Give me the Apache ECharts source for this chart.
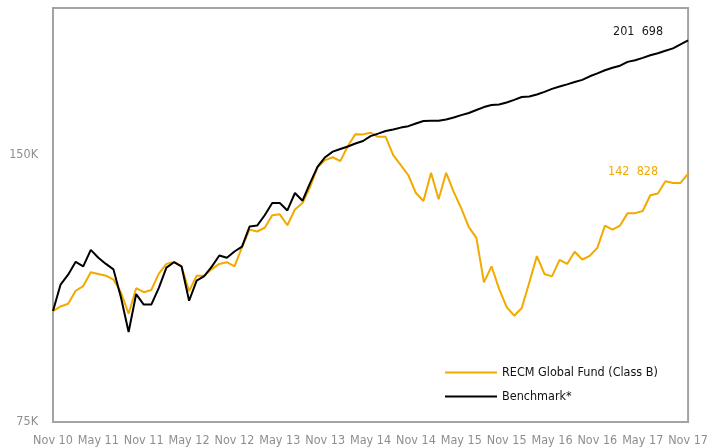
<!DOCTYPE html>
<html>
<head>
<meta charset="utf-8">
<script src="https://cdn.jsdelivr.net/npm/echarts@6/dist/echarts.min.js"></script>
<style>
html,body{margin:0;padding:0;background:#fff;}
#chart{width:711px;height:448px;}
</style>
</head>
<body>
<div id="chart"></div>
<script>
const months = [
 'Nov 10','Dec 10','Jan 11','Feb 11','Mar 11','Apr 11','May 11','Jun 11','Jul 11','Aug 11','Sep 11','Oct 11',
 'Nov 11','Dec 11','Jan 12','Feb 12','Mar 12','Apr 12','May 12','Jun 12','Jul 12','Aug 12','Sep 12','Oct 12',
 'Nov 12','Dec 12','Jan 13','Feb 13','Mar 13','Apr 13','May 13','Jun 13','Jul 13','Aug 13','Sep 13','Oct 13',
 'Nov 13','Dec 13','Jan 14','Feb 14','Mar 14','Apr 14','May 14','Jun 14','Jul 14','Aug 14','Sep 14','Oct 14',
 'Nov 14','Dec 14','Jan 15','Feb 15','Mar 15','Apr 15','May 15','Jun 15','Jul 15','Aug 15','Sep 15','Oct 15',
 'Nov 15','Dec 15','Jan 16','Feb 16','Mar 16','Apr 16','May 16','Jun 16','Jul 16','Aug 16','Sep 16','Oct 16',
 'Nov 16','Dec 16','Jan 17','Feb 17','Mar 17','Apr 17','May 17','Jun 17','Jul 17','Aug 17','Sep 17','Oct 17',
 'Nov 17'
];

const fundName = 'RECM Global Fund (Class B)';
const benchName = 'Benchmark*';

const fund = [
 100000,101200,101900,105400,106700,110600,110100,109600,108500,104900,99300,106100,
 105000,105600,110200,113000,113600,112200,105300,109600,109600,111500,113000,113500,
 112300,118000,123500,122900,124100,128200,128500,124900,130100,132300,137900,145200,
 147900,149000,147500,153400,158200,158100,158800,157100,157100,149800,146000,142200,
 135800,133000,143100,133600,143100,136200,130500,124300,120900,107700,112300,105900,
 101000,98800,100800,107700,115300,110100,109400,114200,113000,116600,114300,115400,
 117800,124800,123500,124800,128900,128900,129600,135000,135600,140000,139400,139400,
 142828
];

const bench = [
 100000,107100,109900,113600,112300,117200,114800,113000,111400,103500,94700,104500,
 101700,101700,106200,111900,113500,112300,102700,108200,109500,112200,115500,114800,
 116700,118200,124500,124800,128200,132300,132300,129800,135800,133100,139300,145400,
 149000,151200,152200,153200,154400,155400,157400,158400,159500,160100,160900,161500,
 162600,163700,163800,163800,164300,165200,166200,167100,168400,169700,170600,170800,
 171700,172900,174200,174400,175300,176500,177900,179000,180000,181100,182100,183800,
 185200,186700,187900,188900,190800,191600,192800,194100,195100,196400,197600,199700,
 201698
];

const yMin = 75000;
const yMax = 219400;
const yTickLabels = {1: '75K', 2: '150K'};
const fundEndLabel = '142  828';
const benchEndLabel = '201  698';

const FONT = "'Liberation Sans Narrow','DejaVu Sans Condensed','Roboto Condensed',sans-serif";
const ORANGE = '#F2A900';
const BLACK = '#000000';
const GREY = '#8e8e8e';

const chart = echarts.init(document.getElementById('chart'), null, {renderer: 'canvas'});
chart.setOption({
  animation: false,
  backgroundColor: '#ffffff',
  grid: {
    left: 53, right: 20, top: 8, bottom: 26,
    show: true, borderColor: '#a3a3a3', borderWidth: 2, backgroundColor: 'transparent'
  },
  legend: {
    orient: 'vertical',
    left: 445, top: 366,
    padding: 0,
    itemWidth: 52, itemHeight: 14, itemGap: 11,
    icon: 'path://M0,0 L52,0 L52,2 L0,2 Z',
    textStyle: {fontFamily: FONT, fontSize: 12.5, color: '#111111'},
    data: [
      {name: fundName, itemStyle: {color: ORANGE}},
      {name: benchName, itemStyle: {color: BLACK}}
    ]
  },
  xAxis: {
    type: 'category',
    data: months,
    boundaryGap: false,
    axisLine: {show: false},
    axisTick: {show: false},
    splitLine: {show: false},
    axisLabel: {
      interval: 5,
      margin: 12,
      color: GREY,
      fontFamily: FONT,
      fontSize: 12.5
    }
  },
  yAxis: [
    {
      type: 'log', logBase: 2, min: yMin, max: yMax,
      axisLine: {show: false}, axisTick: {show: false},
      splitLine: {show: false}, axisLabel: {show: false}
    },
    {
      type: 'log', logBase: 2, min: 1, max: yMax / yMin,
      position: 'left',
      axisLine: {show: false}, axisTick: {show: false},
      splitLine: {show: false},
      axisLabel: {
        margin: 15,
        color: GREY, fontFamily: FONT, fontSize: 12.5,
        formatter: function (v) {
          if (Math.abs(v - 1) < 1e-6) return yTickLabels[1];
          if (Math.abs(v - 2) < 1e-6) return yTickLabels[2];
          return '';
        }
      }
    }
  ],
  series: [
    {
      name: fundName, type: 'line', yAxisIndex: 0,
      data: fund, symbol: 'none', showSymbol: false,
      lineStyle: {color: ORANGE, width: 2}, itemStyle: {color: ORANGE},
      z: 2,
      endLabel: {
        show: true, distance: 0, align: 'right', verticalAlign: 'middle',
        offset: [-30, -2],
        formatter: fundEndLabel,
        color: ORANGE, fontFamily: FONT, fontSize: 12.5
      }
    },
    {
      name: benchName, type: 'line', yAxisIndex: 0,
      data: bench, symbol: 'none', showSymbol: false,
      lineStyle: {color: BLACK, width: 2}, itemStyle: {color: BLACK},
      z: 3,
      endLabel: {
        show: true, distance: 0, align: 'right', verticalAlign: 'middle',
        offset: [-25, -9],
        formatter: benchEndLabel,
        color: '#1a1a1a', fontFamily: FONT, fontSize: 12.5
      }
    }
  ]
});
</script>
</body>
</html>
